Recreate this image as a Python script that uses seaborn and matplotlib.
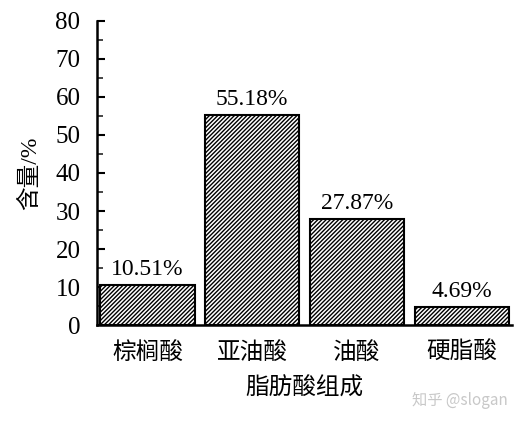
import matplotlib
matplotlib.use("Agg")
import matplotlib.pyplot as plt
import seaborn as sns
import pandas as pd
from matplotlib.ticker import MultipleLocator

categories = ["棕榈酸", "亚油酸", "油酸", "硬脂酸"]
values = [10.51, 55.18, 27.87, 4.69]
labels = ["10.51%", "55.18%", "27.87%", "4.69%"]
y_ticks = [0, 10, 20, 30, 40, 50, 60, 70, 80]

sns.set_theme(style="ticks")
plt.rcParams['font.family'] = ['Liberation Serif', 'Noto Sans CJK SC']
plt.rcParams['hatch.linewidth'] = 1.0
plt.rcParams['hatch.color'] = 'black'

df = pd.DataFrame({"cat": categories, "val": values})

fig = plt.figure(figsize=(5.22, 4.25), dpi=100)
ax = fig.add_axes([0.186, 0.235, 0.795, 0.716])

sns.barplot(data=df, x="cat", y="val", ax=ax, width=0.9, color="white",
            edgecolor="black", linewidth=1.5, hatch="////////", saturation=1)

for p, lab in zip(ax.patches, labels):
    ax.annotate(lab, (p.get_x() + p.get_width() / 2, p.get_height()),
                xytext=(0, 4), textcoords="offset points",
                ha="center", va="bottom", fontsize=17, color="black")

ax.set_xlim(-0.48, 3.48)
ax.set_ylim(0, 80)
ax.set_yticks(y_ticks)
ax.yaxis.set_minor_locator(MultipleLocator(5))
ax.tick_params(axis='y', which='major', direction='in', length=6, width=1.5,
               labelsize=18, pad=12, colors='black')
ax.tick_params(axis='y', which='minor', direction='in', length=4, width=1.2)
ax.tick_params(axis='x', which='major', direction='in', length=4, width=1.2,
               labelsize=17, pad=12, colors='black')
for s in ['top', 'right']:
    ax.spines[s].set_visible(False)
for s in ['left', 'bottom']:
    ax.spines[s].set_linewidth(1.8)
    ax.spines[s].set_color('black')

ax.set_xlabel("脂肪酸组成", fontsize=17, labelpad=10, color='black')
ax.set_ylabel("含量/%", fontsize=17, labelpad=10, color='black')

fig.text(0.973, 0.058, "知乎 @slogan", fontsize=11, color="#c8c8c8",
         ha="right", va="center", family=['Noto Sans CJK SC', 'DejaVu Sans'])

fig.savefig("out.png", dpi=100, facecolor="white")
